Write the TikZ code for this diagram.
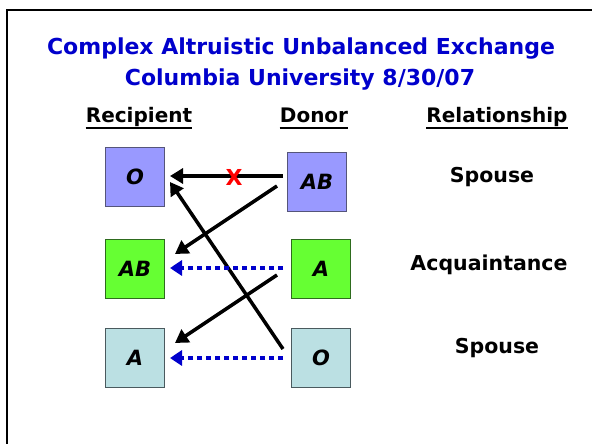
\documentclass[tikz,border=0pt]{standalone}
\usepackage{fontspec}
\setmainfont{DejaVu Sans}
\usetikzlibrary{arrows.meta}
\definecolor{titleblue}{HTML}{0000CC}
\definecolor{purp}{HTML}{9999FF}
\definecolor{purpd}{HTML}{55557A}
\definecolor{grn}{HTML}{66FF33}
\definecolor{grnd}{HTML}{2E6B1E}
\definecolor{lblue}{HTML}{BBE0E3}
\definecolor{lblued}{HTML}{4A5A5E}
\definecolor{dotblue}{HTML}{0000CC}
\tikzset{
  bx/.style={minimum width=59pt, minimum height=59pt, inner sep=0pt, line width=1pt, font=\fontsize{21}{21}\selectfont\bfseries\itshape},
  pbox/.style={bx, fill=purp, draw=purpd},
  gbox/.style={bx, fill=grn, draw=grnd},
  lbox/.style={bx, fill=lblue, draw=lblued},
  hdr/.style={anchor=base, inner sep=0pt, font=\fontsize{20}{20}\selectfont\bfseries},
  uline/.style={line width=2pt},
  rel/.style={font=\fontsize{20.5}{20.5}\selectfont\bfseries},
  ttl/.style={anchor=base, inner sep=0pt, font=\fontsize{22}{22}\selectfont\bfseries, text=titleblue},
  solidarr/.style={line width=3.5pt, -{Triangle[length=13pt,width=15pt]}},
  dotarr/.style={line width=4pt, dotblue, dash pattern=on 5pt off 4pt, -{Triangle[length=12pt,width=15pt]}}
}
\begin{document}
\begin{tikzpicture}[x=1pt,y=-1pt]
\useasboundingbox (0,0) rectangle (592,444);
\fill[white] (0,0) rectangle (592,444);
\draw[line width=2pt] (7,460) -- (7,10) -- (600,10);
\node[ttl] (t1) at (301,55) {Complex Altruistic Unbalanced Exchange};
\node[ttl] (t2) at (300,85) {Columbia University 8/30/07};
\node[hdr] (h1) at (139,122) {Recipient};
\node[hdr] (h2) at (314,122) {Donor};
\node[hdr] (h3) at (497,122) {Relationship};
\draw[uline] ([yshift=-6pt]h1.base -| h1.west) -- ([yshift=-6pt]h1.base -| h1.east);
\draw[uline] ([yshift=-6pt]h2.base -| h2.west) -- ([yshift=-6pt]h2.base -| h2.east);
\draw[uline] ([yshift=-6pt]h3.base -| h3.west) -- ([yshift=-6pt]h3.base -| h3.east);
\node[pbox] (r1) at (135,177) {O};
\node[pbox] (d1) at (317,182) {AB};
\node[gbox] (r2) at (135,269) {AB};
\node[gbox] (d2) at (321,269) {A};
\node[lbox] (r3) at (135,358) {A};
\node[lbox] (d3) at (321,358) {O};
\node[rel] (s1) at (492,177) {Spouse};
\node[rel] (s2) at (489,265) {Acquaintance};
\node[rel] (s3) at (497,348) {Spouse};
\coordinate (a1s) at (283,176);
\coordinate (a1e) at (170,176);
\draw[solidarr] (a1s) -- (a1e);
\node[text=red, font=\fontsize{22}{22}\selectfont\bfseries] (x) at (234,177) {X};
\coordinate (a2s) at (277,186);
\coordinate (a2e) at (175,254);
\draw[solidarr] (a2s) -- (a2e);
\coordinate (a3s) at (283,349);
\coordinate (a3e) at (170,182);
\draw[solidarr] (a3s) -- (a3e);
\coordinate (a4s) at (277,275);
\coordinate (a4e) at (175,343);
\draw[solidarr] (a4s) -- (a4e);
\coordinate (a5s) at (283,268);
\coordinate (a5e) at (170,268);
\draw[dotarr] (a5s) -- (a5e);
\coordinate (a6s) at (283,358);
\coordinate (a6e) at (170,358);
\draw[dotarr] (a6s) -- (a6e);
\end{tikzpicture}
\end{document}
